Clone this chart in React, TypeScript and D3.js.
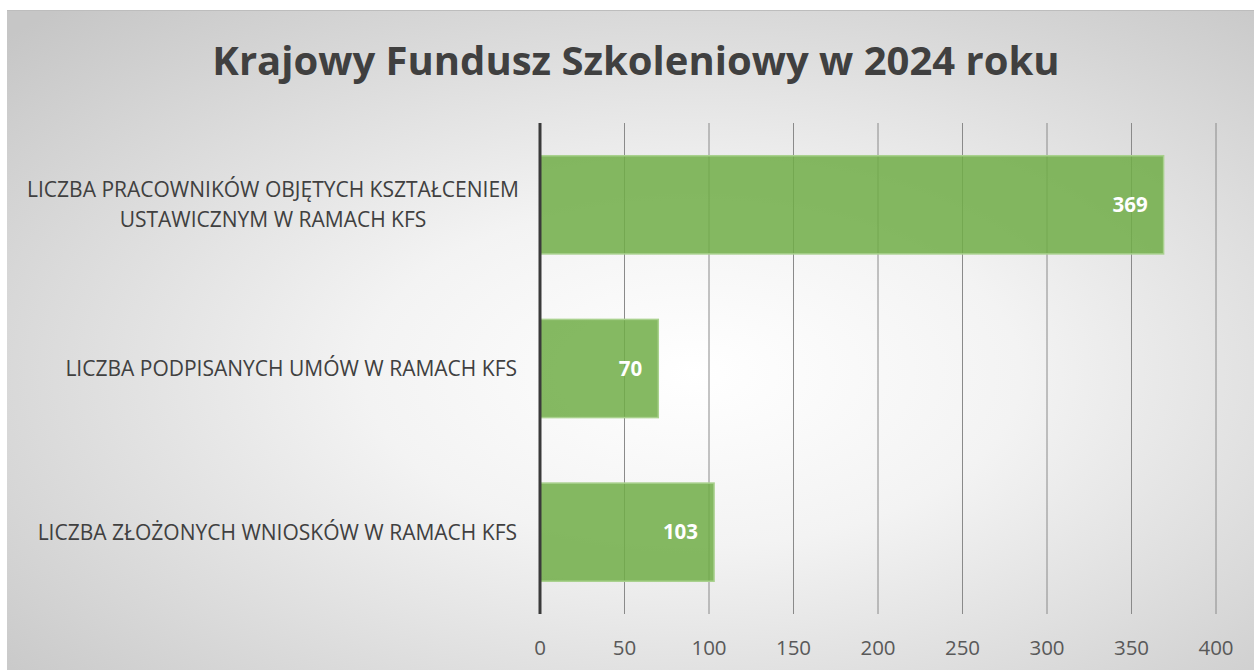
import * as d3 from "d3";

const categories = [
  "LICZBA PRACOWNIKÓW OBJĘTYCH KSZTAŁCENIEM|USTAWICZNYM W RAMACH KFS",
  "LICZBA PODPISANYCH UMÓW W RAMACH KFS",
  "LICZBA ZŁOŻONYCH WNIOSKÓW W RAMACH KFS",
];
const values = [369, 70, 103];
const ticks = [0, 50, 100, 150, 200, 250, 300, 350, 400];
const title = "Krajowy Fundusz Szkoleniowy w 2024 roku";

const W = 1254;
const H = 670;
const font = "'Open Sans', sans-serif";

const App = () => {
  const x = d3.scaleLinear().domain([0, 400]).range([540, 1216]);
  const y = d3
    .scaleBand()
    .domain(categories)
    .range([123, 614])
    .paddingInner(0.4)
    .paddingOuter(0.2);

  return (
    <svg
      width={W}
      height={H}
      style={{ position: "fixed", left: 0, top: 0, background: "#fff" }}
    >
      <defs>
        <radialGradient id="bg" cx="0.55" cy="0.55" r="0.75">
          <stop offset="0" stopColor="#ffffff" />
          <stop offset="0.35" stopColor="#f3f3f3" />
          <stop offset="1" stopColor="#c6c6c6" />
        </radialGradient>
      </defs>
      <rect x={7} y={10} width={W - 7} height={H - 10} fill="url(#bg)" />
      <line x1={7} x2={W} y1={10.5} y2={10.5} stroke="#bdbdbd" />

      <text
        x={636}
        y={75}
        textAnchor="middle"
        fontFamily={font}
        fontWeight="bold"
        fontSize={40}
        fill="#404040"
      >
        {title}
      </text>

      {ticks.map((t) => (
        <g key={t}>
          {t > 0 && (
            <line
              x1={x(t)}
              x2={x(t)}
              y1={123}
              y2={614}
              stroke="#8a8a8a"
              strokeWidth={1}
            />
          )}
          <text
            x={x(t)}
            y={655}
            textAnchor="middle"
            fontFamily={font}
            fontSize={20.5}
            fill="#595959"
          >
            {t}
          </text>
        </g>
      ))}

      {categories.map((c, i) => {
        const lines = c.split("|");
        const cy = y(c)! + y.bandwidth() / 2;
        const lh = 30;
        return (
          <g key={c}>
            <rect
              x={x(0)}
              y={y(c)}
              width={x(values[i]) - x(0)}
              height={y.bandwidth()}
              fill="#70ad47"
              fillOpacity={0.85}
              stroke="#a9d18e"
              strokeWidth={1.5}
            />
            <text
              x={x(values[i]) - 16}
              y={cy}
              dy="0.35em"
              textAnchor="end"
              fontFamily={font}
              fontWeight="bold"
              fontSize={20.5}
              fill="#ffffff"
            >
              {values[i]}
            </text>
            {lines.map((l, j) => (
              <text
                key={j}
                x={lines.length > 1 ? 273 : 517}
                y={cy + (j - (lines.length - 1) / 2) * lh}
                dy="0.35em"
                textAnchor={lines.length > 1 ? "middle" : "end"}
                fontFamily={font}
                fontSize={21}
                fill="#404040"
              >
                {l}
              </text>
            ))}
          </g>
        );
      })}

      <line x1={540} x2={540} y1={123} y2={614} stroke="#3a3a3a" strokeWidth={3} />
    </svg>
  );
};

export default App;
